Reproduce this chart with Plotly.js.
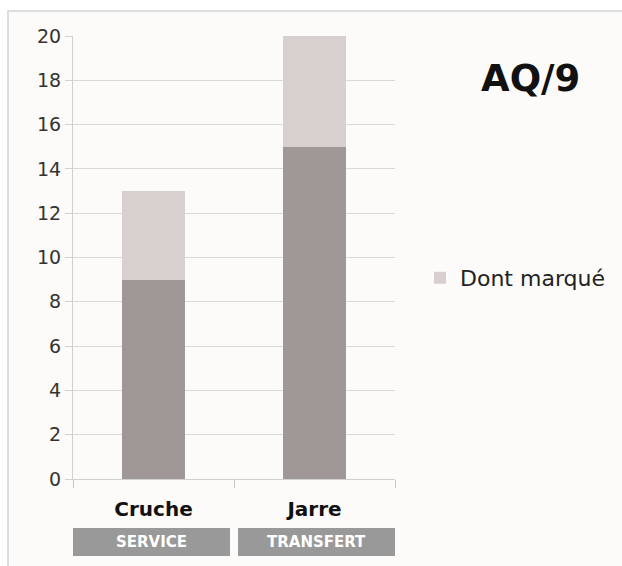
<!DOCTYPE html>
<html>
<head>
<meta charset="utf-8">
<script src="https://cdn.plot.ly/plotly-3.0.1.min.js"></script>
<style>html,body{margin:0;padding:0;background:#fff;}#chart{width:622px;height:566px;}</style>
</head>
<body>
<div id="chart"></div>
<script>
const categories = ["Cruche", "Jarre"];
const groups = ["SERVICE", "TRANSFERT"];
const baseValues = [9, 15];
const marqueValues = [4, 5];
const seriesName = "Dont marqué";
const chartTitle = "AQ/9";
const yTicks = [0, 2, 4, 6, 8, 10, 12, 14, 16, 18, 20];

const FONT = "'DejaVu Sans', sans-serif";

const traces = [
  {type: "bar", x: categories, y: baseValues, name: "Total", showlegend: false,
   marker: {color: "#a09896"}, width: 0.39, hoverinfo: "skip"},
  {type: "bar", x: categories, y: marqueValues, name: seriesName, showlegend: true,
   marker: {color: "#d7d0cf"}, width: 0.39, hoverinfo: "skip"}
];

const L = 73, R = 395, T = 36, B = 479;
const px = v => (v - L) / (R - L);
const py = v => (B - v) / (B - T);

const shapes = [
  {type: "rect", xref: "paper", yref: "paper", x0: px(8), x1: px(640), y0: py(580), y1: py(11),
   fillcolor: "#fcfbfa", line: {color: "#d4d4d4", width: 1.5}, layer: "below"}
];
const annotations = [
  {xref: "paper", yref: "paper", x: px(530), y: py(78), text: "<b>" + chartTitle + "</b>",
   showarrow: false, font: {family: FONT, size: 37, color: "#111"}, xanchor: "center", yanchor: "middle"}
];
const boxes = [[-0.506, 0.475], [0.525, 1.5]];
groups.forEach((g, i) => {
  shapes.push({type: "rect", xref: "x", yref: "paper", x0: boxes[i][0], x1: boxes[i][1],
    y0: py(556), y1: py(528), fillcolor: "#999999", line: {width: 0}});
  annotations.push({xref: "x", yref: "paper", x: (boxes[i][0] + boxes[i][1]) / 2, y: py(542),
    text: "<b>" + g + "</b>", showarrow: false, font: {family: FONT, size: 15, color: "#ffffff"},
    xanchor: "center", yanchor: "middle"});
});

const layout = {
  width: 622, height: 566,
  margin: {l: L, r: 622 - R, t: T, b: 566 - B, pad: 0},
  paper_bgcolor: "#ffffff", plot_bgcolor: "rgba(0,0,0,0)",
  barmode: "stack",
  font: {family: FONT, color: "#333"},
  xaxis: {type: "category", range: [-0.5, 1.5], showgrid: false, zeroline: false,
    showline: true, linecolor: "#d0d0d0", linewidth: 1,
    ticks: "outside", tickson: "boundaries", ticklen: 8, tickcolor: "#c8c8c8",
    tickfont: {family: FONT, size: 20, color: "#111", weight: "bold"}, ticklabelstandoff: 12},
  yaxis: {range: [0, 20], tickvals: yTicks, ticktext: yTicks.map(String),
    showgrid: true, gridcolor: "#d9d9d9", gridwidth: 1, zeroline: false,
    showline: true, linecolor: "#d0d0d0", linewidth: 1,
    ticks: "outside", ticklen: 7, tickcolor: "#d0d0d0",
    tickfont: {family: FONT, size: 19, color: "#333"}, ticklabelstandoff: 0},
  legend: {x: px(420), y: py(278), xanchor: "left", yanchor: "middle",
    bgcolor: "rgba(0,0,0,0)", font: {family: FONT, size: 22, color: "#222"},
    itemwidth: 30, traceorder: "normal"},
  shapes: shapes,
  annotations: annotations
};

Plotly.newPlot("chart", traces, layout, {displayModeBar: false, staticPlot: true});
</script>
</body>
</html>
